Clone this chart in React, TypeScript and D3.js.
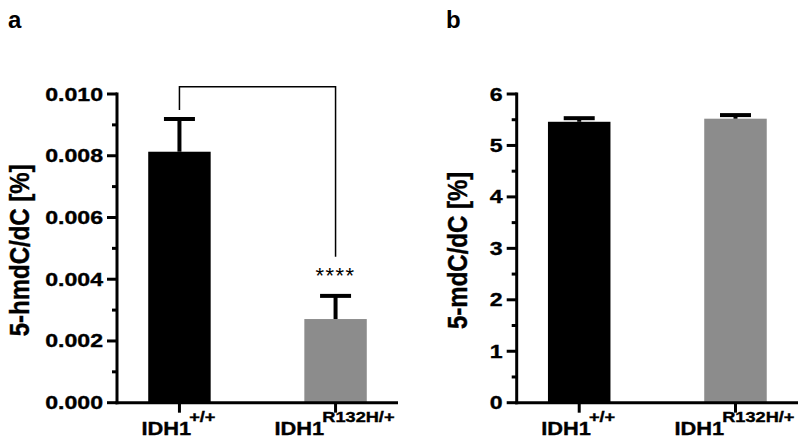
import React from "react";
import * as d3 from "d3";

const categories = ["IDH1+/+", "IDH1R132H/+"];
const catBase = ["IDH1", "IDH1"];
const catSup = ["+/+", "R132H/+"];
const barColors = ["#000000", "#8c8c8c"];

const hmdcMean = [0.00813, 0.00271];
const hmdcErr = [0.00106, 0.00075];
const hmdcTicks = [0, 0.002, 0.004, 0.006, 0.008, 0.01];
const hmdcMinor = [0.001, 0.003, 0.005, 0.007, 0.009];
const hmdcTickLabels = ["0.000", "0.002", "0.004", "0.006", "0.008", "0.010"];

const mdcMean = [5.46, 5.52];
const mdcErr = [0.07, 0.07];
const mdcTicks = [0, 1, 2, 3, 4, 5, 6];
const mdcMinor = [0.5, 1.5, 2.5, 3.5, 4.5, 5.5];
const mdcTickLabels = ["0", "1", "2", "3", "4", "5", "6"];

const FONT = "'Liberation Sans', Arial, Helvetica, sans-serif";

let ctx: CanvasRenderingContext2D | null = null;
function measure(text: string, size: number): number {
  if (typeof document === "undefined") return text.length * size * 0.6;
  if (!ctx) ctx = document.createElement("canvas").getContext("2d");
  if (!ctx) return text.length * size * 0.6;
  ctx.font = `bold ${size}px ${FONT}`;
  return ctx.measureText(text).width;
}

type PanelProps = {
  x0: number;
  x1: number;
  yMax: number;
  means: number[];
  errs: number[];
  ticks: number[];
  minor: number[];
  tickLabels: string[];
  yLabel: string;
  yLabelX: number;
  letter: string;
  letterX: number;
  sig?: boolean;
};

const BASE_FS = 19;
const BASE_SX = 1.15;
const SUP_FS = 14;
const SUP_SX = 1.3;
const HEAVY = { stroke: "#000", strokeWidth: 0.35 };

function Panel(p: PanelProps) {
  const yBottom = 402.7;
  const yTop = 94;
  const y = d3.scaleLinear().domain([0, p.yMax]).range([yBottom, yTop]);
  const x = d3
    .scaleBand<string>()
    .domain(categories)
    .range([p.x0, p.x1])
    .paddingInner(0.6)
    .paddingOuter(0.2);
  const bw = x.bandwidth();
  const cx = (c: string) => (x(c) as number) + bw / 2;
  const capW = 31;
  const yLabelCenter = (yBottom + yTop) / 2 + 2;
  return (
    <g>
      <text x={p.letterX} y={28} fontFamily={FONT} fontWeight="bold" fontSize={24} fill="#000">
        {p.letter}
      </text>
      {categories.map((c, i) => (
        <rect
          key={"bar" + i}
          x={x(c) as number}
          y={y(p.means[i])}
          width={bw}
          height={yBottom - y(p.means[i])}
          fill={barColors[i]}
        />
      ))}
      {categories.map((c, i) => (
        <g key={"err" + i} stroke="#000" strokeWidth={4}>
          <line x1={cx(c)} x2={cx(c)} y1={y(p.means[i])} y2={y(p.means[i] + p.errs[i])} />
          <line
            x1={cx(c) - capW / 2}
            x2={cx(c) + capW / 2}
            y1={y(p.means[i] + p.errs[i])}
            y2={y(p.means[i] + p.errs[i])}
          />
        </g>
      ))}
      <line x1={p.x0} x2={p.x0} y1={yTop - 1.5} y2={yBottom + 1.5} stroke="#000" strokeWidth={3} />
      {p.ticks.map((t, i) => (
        <g key={"t" + i}>
          <line x1={p.x0 - 10} x2={p.x0} y1={y(t)} y2={y(t)} stroke="#000" strokeWidth={3} />
          <text
            transform={`translate(${p.x0 - 14},${y(t) + 6.5}) scale(1.25,1)`}
            textAnchor="end"
            fontFamily={FONT}
            fontWeight="bold"
            fontSize={18.5}
            fill="#000"
            {...HEAVY}
          >
            {p.tickLabels[i]}
          </text>
        </g>
      ))}
      {p.minor.map((t, i) => (
        <line key={"m" + i} x1={p.x0 - 5} x2={p.x0} y1={y(t)} y2={y(t)} stroke="#000" strokeWidth={3} />
      ))}
      <line x1={p.x0 - 1.5} x2={p.x1} y1={yBottom} y2={yBottom} stroke="#000" strokeWidth={3} />
      {categories.map((c, i) => {
        const wb = measure(catBase[i], BASE_FS) * BASE_SX;
        const ws = measure(catSup[i], SUP_FS) * SUP_SX;
        const left = cx(c) - (wb + ws) / 2;
        return (
          <g key={"xt" + i}>
            <line x1={cx(c)} x2={cx(c)} y1={yBottom} y2={yBottom + 10} stroke="#000" strokeWidth={3} />
            <text
              transform={`translate(${left},435) scale(${BASE_SX},1)`}
              fontFamily={FONT}
              fontWeight="bold"
              fontSize={BASE_FS}
              fill="#000"
              {...HEAVY}
            >
              {catBase[i]}
            </text>
            <text
              transform={`translate(${left + wb - 2},421.5) scale(${SUP_SX},1)`}
              fontFamily={FONT}
              fontWeight="bold"
              fontSize={SUP_FS}
              fill="#000"
              {...HEAVY}
            >
              {catSup[i]}
            </text>
          </g>
        );
      })}
      <text
        transform={`translate(${p.yLabelX},${yLabelCenter}) rotate(-90) scale(1,1.15)`}
        textAnchor="middle"
        fontFamily={FONT}
        fontWeight="bold"
        fontSize={24}
        fill="#000"
        {...HEAVY}
      >
        {p.yLabel}
      </text>
      {p.sig && (
        <g>
          <path
            d={`M${cx(categories[0])},${y(p.means[0] + p.errs[0]) - 9} V${86.7} H${cx(categories[1])} V${256.7}`}
            fill="none"
            stroke="#000"
            strokeWidth={1.5}
          />
          <text
            x={cx(categories[1])}
            y={283}
            textAnchor="middle"
            fontFamily={FONT}
            fontSize={22}
            letterSpacing={1.5}
            fill="#000"
          >
            ****
          </text>
        </g>
      )}
    </g>
  );
}

export default function App() {
  return (
    <svg width={800} height={439} style={{ position: "absolute", left: 0, top: 0, background: "#fff" }}>
      <rect width={800} height={439} fill="#fff" />
      <Panel
        x0={117}
        x1={398}
        yMax={0.01}
        means={hmdcMean}
        errs={hmdcErr}
        ticks={hmdcTicks}
        minor={hmdcMinor}
        tickLabels={hmdcTickLabels}
        yLabel="5-hmdC/dC [%]"
        yLabelX={29}
        letter="a"
        letterX={8}
        sig
      />
      <Panel
        x0={516.7}
        x1={798}
        yMax={6}
        means={mdcMean}
        errs={mdcErr}
        ticks={mdcTicks}
        minor={mdcMinor}
        tickLabels={mdcTickLabels}
        yLabel="5-mdC/dC [%]"
        yLabelX={467}
        letter="b"
        letterX={446}
      />
    </svg>
  );
}
